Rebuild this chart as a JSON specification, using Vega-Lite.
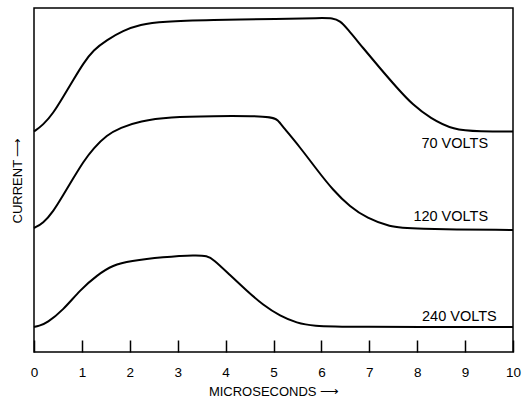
{
  "$schema": "https://vega.github.io/schema/vega-lite/v6.json",
  "width": 479,
  "height": 344,
  "autosize": {"type": "none"},
  "padding": {"left": 34, "top": 8, "right": 10, "bottom": 48},
  "background": "white",
  "config": {
    "view": {"stroke": "black", "strokeWidth": 1.5},
    "font": "Liberation Sans"
  },
  "datasets": {
    "curves": [
      {"series": "70 VOLTS", "t": 0, "current": 220.5},
      {"series": "70 VOLTS", "t": 0.19, "current": 227},
      {"series": "70 VOLTS", "t": 0.4, "current": 238.7},
      {"series": "70 VOLTS", "t": 0.61, "current": 255.3},
      {"series": "70 VOLTS", "t": 0.82, "current": 272},
      {"series": "70 VOLTS", "t": 1.03, "current": 288.7},
      {"series": "70 VOLTS", "t": 1.24, "current": 302},
      {"series": "70 VOLTS", "t": 1.52, "current": 312},
      {"series": "70 VOLTS", "t": 1.86, "current": 321.3},
      {"series": "70 VOLTS", "t": 2.21, "current": 327.5},
      {"series": "70 VOLTS", "t": 2.69, "current": 330.5},
      {"series": "70 VOLTS", "t": 3.67, "current": 332},
      {"series": "70 VOLTS", "t": 5.14, "current": 333},
      {"series": "70 VOLTS", "t": 5.97, "current": 334},
      {"series": "70 VOLTS", "t": 6.24, "current": 334},
      {"series": "70 VOLTS", "t": 6.39, "current": 331},
      {"series": "70 VOLTS", "t": 6.53, "current": 324},
      {"series": "70 VOLTS", "t": 6.87, "current": 304},
      {"series": "70 VOLTS", "t": 7.22, "current": 284},
      {"series": "70 VOLTS", "t": 7.58, "current": 264},
      {"series": "70 VOLTS", "t": 7.91, "current": 247},
      {"series": "70 VOLTS", "t": 8.27, "current": 234},
      {"series": "70 VOLTS", "t": 8.75, "current": 222},
      {"series": "70 VOLTS", "t": 9.31, "current": 220.5},
      {"series": "70 VOLTS", "t": 10, "current": 220.5},
      {"series": "120 VOLTS", "t": 0, "current": 124},
      {"series": "120 VOLTS", "t": 0.19, "current": 128.7},
      {"series": "120 VOLTS", "t": 0.4, "current": 140.3},
      {"series": "120 VOLTS", "t": 0.61, "current": 157},
      {"series": "120 VOLTS", "t": 0.82, "current": 173.7},
      {"series": "120 VOLTS", "t": 1.03, "current": 190.3},
      {"series": "120 VOLTS", "t": 1.24, "current": 203.7},
      {"series": "120 VOLTS", "t": 1.52, "current": 217},
      {"series": "120 VOLTS", "t": 1.8, "current": 224.3},
      {"series": "120 VOLTS", "t": 2.21, "current": 231},
      {"series": "120 VOLTS", "t": 2.84, "current": 235},
      {"series": "120 VOLTS", "t": 3.67, "current": 236},
      {"series": "120 VOLTS", "t": 4.97, "current": 236},
      {"series": "120 VOLTS", "t": 5.09, "current": 232},
      {"series": "120 VOLTS", "t": 5.2, "current": 225},
      {"series": "120 VOLTS", "t": 5.55, "current": 205},
      {"series": "120 VOLTS", "t": 5.91, "current": 182},
      {"series": "120 VOLTS", "t": 6.24, "current": 162},
      {"series": "120 VOLTS", "t": 6.6, "current": 145},
      {"series": "120 VOLTS", "t": 6.95, "current": 134},
      {"series": "120 VOLTS", "t": 7.43, "current": 125},
      {"series": "120 VOLTS", "t": 7.85, "current": 123},
      {"series": "120 VOLTS", "t": 10, "current": 122},
      {"series": "240 VOLTS", "t": 0, "current": 25},
      {"series": "240 VOLTS", "t": 0.1, "current": 26},
      {"series": "240 VOLTS", "t": 0.27, "current": 29},
      {"series": "240 VOLTS", "t": 0.61, "current": 42},
      {"series": "240 VOLTS", "t": 0.96, "current": 62},
      {"series": "240 VOLTS", "t": 1.32, "current": 77},
      {"series": "240 VOLTS", "t": 1.65, "current": 87},
      {"series": "240 VOLTS", "t": 2.0, "current": 91},
      {"series": "240 VOLTS", "t": 2.69, "current": 95},
      {"series": "240 VOLTS", "t": 3.4, "current": 97},
      {"series": "240 VOLTS", "t": 3.61, "current": 96},
      {"series": "240 VOLTS", "t": 3.74, "current": 93},
      {"series": "240 VOLTS", "t": 4.09, "current": 77},
      {"series": "240 VOLTS", "t": 4.45, "current": 61},
      {"series": "240 VOLTS", "t": 4.78, "current": 47},
      {"series": "240 VOLTS", "t": 5.14, "current": 36},
      {"series": "240 VOLTS", "t": 5.49, "current": 29},
      {"series": "240 VOLTS", "t": 5.82, "current": 26},
      {"series": "240 VOLTS", "t": 6.53, "current": 25},
      {"series": "240 VOLTS", "t": 10, "current": 25}
    ],
    "labels": [
      {"series": "70 VOLTS", "t": 9.48, "current": 208},
      {"series": "120 VOLTS", "t": 9.48, "current": 135},
      {"series": "240 VOLTS", "t": 9.66, "current": 35}
    ]
  },
  "layer": [
    {
      "data": {"name": "curves"},
      "mark": {"type": "line", "interpolate": "basis", "color": "black", "strokeWidth": 2},
      "encoding": {
        "x": {
          "field": "t", "type": "quantitative",
          "scale": {"domain": [0, 10], "nice": false},
          "axis": {
            "title": "MICROSECONDS ⟶",
            "values": [0,1,2,3,4,5,6,7,8,9,10],
            "tickSize": -12,
            "tickColor": "black",
            "tickWidth": 1.5,
            "domain": false,
            "grid": false,
            "labelFontSize": 13.5,
            "labelColor": "black",
            "labelPadding": 25,
            "labelFlush": false,
            "titleFontSize": 13,
            "titleFontWeight": "normal",
            "titleColor": "black",
            "titlePadding": 7
          }
        },
        "y": {
          "field": "current", "type": "quantitative",
          "scale": {"domain": [0, 344], "nice": false},
          "axis": {
            "title": "CURRENT ⟶",
            "ticks": false,
            "labels": false,
            "domain": false,
            "grid": false,
            "titleFontSize": 13,
            "titleFontWeight": "normal",
            "titleColor": "black",
            "titlePadding": 10
          }
        },
        "detail": {"field": "series"}
      }
    },
    {
      "data": {"name": "labels"},
      "mark": {"type": "text", "align": "right", "baseline": "middle", "fontSize": 14.5, "color": "black"},
      "encoding": {
        "x": {"field": "t", "type": "quantitative"},
        "y": {"field": "current", "type": "quantitative"},
        "text": {"field": "series"}
      }
    }
  ]
}
